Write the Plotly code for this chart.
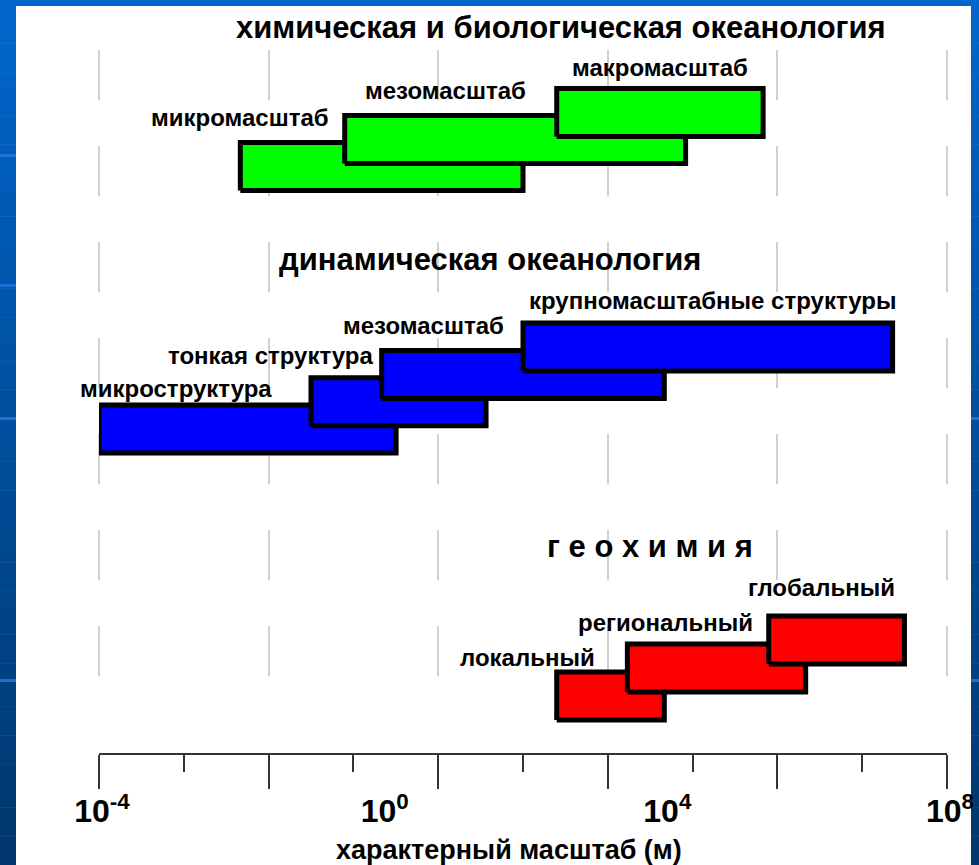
import numpy as np
import plotly.graph_objects as go

# ---- data: characteristic scale ranges (metres) ----
chem_names = ["микромасштаб", "мезомасштаб", "макромасштаб"]
chem_lo = [1e-2, 0.3, 300]
chem_hi = [1e2, 2e4, 2.5e5]

dyn_names = ["микроструктура", "тонкая структура", "мезомасштаб", "крупномасштабные структуры"]
dyn_lo = [1e-4, 0.1, 1, 100]
dyn_hi = [1.6, 30, 1e4, 1.7e7]

geo_names = ["локальный", "региональный", "глобальный"]
geo_lo = [300, 3000, 3e5]
geo_hi = [1e4, 1e6, 2.5e7]

group_titles = ["химическая и биологическая океанология",
                "динамическая океанология",
                "г е о х и м и я"]
tick_exponents = [-4, 0, 4, 8]
axis_title = "характерный масштаб (м)"

# ---- layout constants ----
W, H = 979, 865
PL, PR, PT, PB = 99, 947, 50, 753          # plot area in pixels
FONT = "Liberation Sans, Arial, sans-serif"
BAR_HALF = 24                               # half height of a bar (row units)
BORDER = 5
GRID_COLOR = "#d0d0d0"
AXIS_COLOR = "#333333"

groups = [
    dict(names=chem_names, lo=chem_lo, hi=chem_hi, color="#00ff00",
         row0=166.5, step=27.0,
         label_x=[-0.72, 2.07, 5.21], label_y=[118, 90, 67],
         title_x=2.54, title_y=28),
    dict(names=dyn_names, lo=dyn_lo, hi=dyn_hi, color="#0000ff",
         row0=429.0, step=27.3,
         label_x=[-1.52, -0.09, 1.76, 7.31], label_y=[388, 355, 325, 300],
         title_x=1.53, title_y=259),
    dict(names=geo_names, lo=geo_lo, hi=geo_hi, color="#ff0000",
         row0=696.0, step=28.0,
         label_x=[3.05, 5.28, 7.29], label_y=[657, 622, 587],
         title_x=3.80, title_y=546),
]


def px_to_paper_x(px):
    return (px - PL) / (PR - PL)


def px_to_paper_y(py):
    return (PB - py) / (PB - PT)


fig = go.Figure()
annotations = []

for g in groups:
    for i, (name, lo, hi) in enumerate(zip(g["names"], g["lo"], g["hi"])):
        yc = g["row0"] - i * g["step"]
        fig.add_trace(go.Scatter(
            x=[lo, hi, hi, lo, lo],
            y=[yc + BAR_HALF, yc + BAR_HALF, yc - BAR_HALF, yc - BAR_HALF, yc + BAR_HALF],
            mode="lines", fill="toself", fillcolor=g["color"],
            line=dict(color="black", width=BORDER),
            hoverinfo="skip", showlegend=False,
        ))
        annotations.append(dict(
            x=g["label_x"][i], y=px_to_paper_y(g["label_y"][i]), xref="x", yref="paper",
            text=name, showarrow=False, xanchor="right", yanchor="middle",
            font=dict(family=FONT, size=24, color="black", weight="bold"),
        ))

for g, title in zip(groups, group_titles):
    annotations.append(dict(
        x=g["title_x"], y=px_to_paper_y(g["title_y"]), xref="x", yref="paper",
        text=title, showarrow=False, xanchor="center", yanchor="middle",
        font=dict(family=FONT, size=31, color="black", weight="bold"),
    ))

# axis caption under the scale bar
annotations.append(dict(
    x=1.80, y=px_to_paper_y(850), xref="x", yref="paper",
    text=axis_title, showarrow=False, xanchor="center", yanchor="middle",
    font=dict(family=FONT, size=27, color="black", weight="bold"),
))

# dummy trace so the label axis is active
fig.add_trace(go.Scatter(x=[1e-4, 1e8], y=[None, None], xaxis="x2", yaxis="y",
                         mode="markers", showlegend=False, hoverinfo="skip"))

grid_dash = ",".join(["50px,46px"] * 6 + ["50px,300px"])

# frame of the slide: vertical gradient strips plus a top band
shapes = []
n_steps = 60
top_rgb = np.array([0, 102, 204])
bot_rgb = np.array([0, 54, 108])
edges = np.linspace(0, H, n_steps + 1)
for k in range(n_steps):
    t = (k + 0.5) / n_steps
    c = top_rgb + (bot_rgb - top_rgb) * t
    col = "rgb(%d,%d,%d)" % tuple(c.round().astype(int))
    for x0, x1 in [(0, 16), (971, W)]:
        shapes.append(dict(type="rect", xref="paper", yref="paper",
                           x0=px_to_paper_x(x0), x1=px_to_paper_x(x1),
                           y0=px_to_paper_y(edges[k + 1] + 0.5), y1=px_to_paper_y(edges[k]),
                           fillcolor=col, line=dict(width=0), layer="below"))
shapes.append(dict(type="rect", xref="paper", yref="paper",
                   x0=px_to_paper_x(0), x1=px_to_paper_x(W),
                   y0=px_to_paper_y(6), y1=px_to_paper_y(0),
                   fillcolor="rgb(0,102,204)", line=dict(width=0), layer="below"))
for ys, strips in [(155, [(0, 16)]), (285, [(0, 16)]), (418, [(0, 16), (971, W)]),
                   (680, [(0, 16), (971, W)])]:
    for x0, x1 in strips:
        shapes.append(dict(type="rect", xref="paper", yref="paper",
                           x0=px_to_paper_x(x0), x1=px_to_paper_x(x1),
                           y0=px_to_paper_y(ys + 2), y1=px_to_paper_y(ys - 1),
                           fillcolor="rgba(40,120,220,0.8)", line=dict(width=0), layer="below"))

# grid lines at both ends of the scale (the axis grid skips its range ends)
for xp in (0, 1):
    shapes.append(dict(type="line", xref="paper", yref="paper",
                       x0=xp, x1=xp, y0=1, y1=0,
                       line=dict(color=GRID_COLOR, width=2, dash=grid_dash), layer="below"))

# tick positions of the scale bar: long and short marks
long_ticks = 10 ** np.linspace(-4, 8, 6)
short_ticks = 10 ** (np.linspace(-4, 8, 11)[1::2])

fig.update_layout(
    template="none",
    width=W, height=H,
    margin=dict(l=PL, r=W - PR, t=PT, b=H - PB, pad=0),
    paper_bgcolor="white", plot_bgcolor="rgba(0,0,0,0)",
    showlegend=False,
    font=dict(family=FONT, color="black"),
    xaxis=dict(
        type="log", range=[-4, 8], automargin=False,
        tickmode="array", tickvals=list(long_ticks), showticklabels=False,
        ticks="outside", ticklen=34, tickwidth=2, tickcolor=AXIS_COLOR,
        showline=True, linecolor=AXIS_COLOR, linewidth=2,
        showgrid=True, gridcolor=GRID_COLOR, gridwidth=2, griddash=grid_dash,
        zeroline=False,
        minor=dict(tickmode="array", tickvals=list(short_ticks), ticks="outside",
                   ticklen=17, tickwidth=2, tickcolor=AXIS_COLOR, showgrid=False),
    ),
    xaxis2=dict(
        type="log", range=[-4, 8], overlaying="x", anchor="y", side="bottom",
        automargin=False,
        tickmode="array", tickvals=[10.0 ** e for e in tick_exponents],
        ticktext=["10<sup>%d</sup>" % e for e in tick_exponents],
        ticks="", showline=False, showgrid=False, zeroline=False,
        tickfont=dict(family=FONT, size=32, color="black", weight="bold"),
        ticklabelstandoff=36, ticklabelshift=3,
    ),
    yaxis=dict(range=[PB, PT], visible=False, automargin=False, fixedrange=True),
    annotations=annotations,
    shapes=shapes,
)

fig.write_html("out.html")
